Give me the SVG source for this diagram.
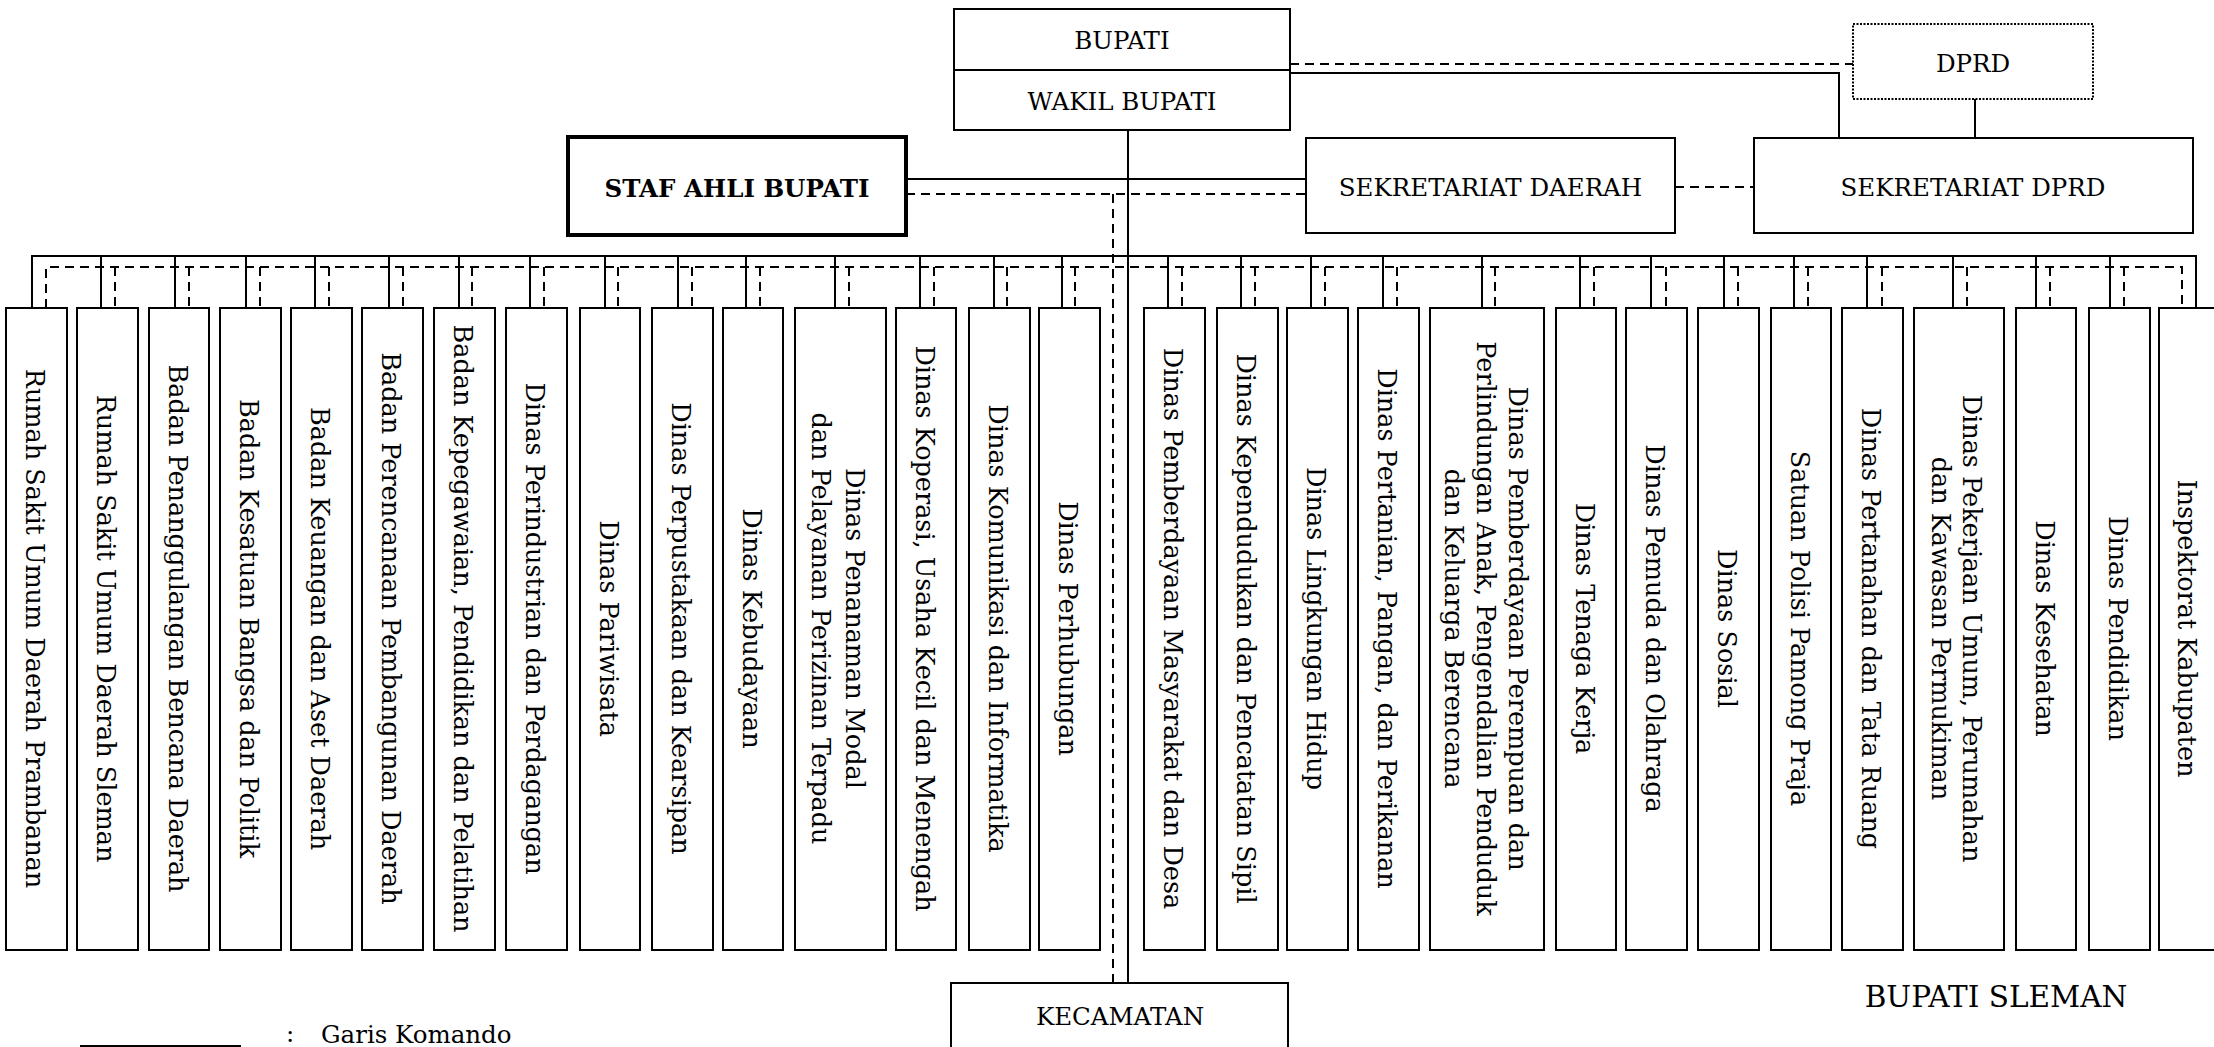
<svg xmlns="http://www.w3.org/2000/svg" width="2214" height="1047" viewBox="0 0 2214 1047">
<style>
.box{fill:#fff;stroke:#000;stroke-width:2}
.v{font-family:"DejaVu Serif",serif;font-size:25.5px;text-anchor:middle;fill:#000}
.h{font-family:"DejaVu Serif",serif;font-size:24.5px;text-anchor:middle;fill:#000}
.ln{stroke:#000;stroke-width:2;fill:none}
.ds{stroke:#000;stroke-width:2;stroke-dasharray:9 6;fill:none}
</style>
<rect width="2214" height="1047" fill="#fff"/>
<g id="connectors">
<path class="ln" d="M1128 130V983M906 179H1306M1290 73H1839V138M1975 99V138M32 308V256H2196V308"/>
<path class="ds" d="M906 194H1306M1113 194V983M1290 64H1853M1675 187H1754M46 308V267H2182V308"/>
<path class="ln" d="M101 256V308M175 256V308M246 256V308M315 256V308M389 256V308M459 256V308M530 256V308M605 256V308M678 256V308M746 256V308M835 256V308M920 256V308M994 256V308M1062 256V308M1168 256V308M1241 256V308M1311 256V308M1383 256V308M1482 256V308M1580 256V308M1651 256V308M1724 256V308M1794 256V308M1867 256V308M1953 256V308M2036 256V308M2110 256V308"/>
<path class="ds" d="M115 267V308M189 267V308M260 267V308M329 267V308M403 267V308M472 267V308M544 267V308M618 267V308M692 267V308M760 267V308M849 267V308M934 267V308M1007 267V308M1075 267V308M1182 267V308M1255 267V308M1325 267V308M1397 267V308M1495 267V308M1594 267V308M1666 267V308M1738 267V308M1808 267V308M1882 267V308M1967 267V308M2050 267V308M2124 267V308"/>
</g>
<g id="bupati"><rect class="box" x="954" y="9" width="336" height="121"/><line class="ln" x1="954" y1="70" x2="1290" y2="70"/><text class="h" x="1122" y="49">BUPATI</text><text class="h" x="1122" y="110">WAKIL BUPATI</text></g>
<g id="dprd"><rect x="1853" y="24" width="240" height="75" fill="#fff" stroke="#000" stroke-width="2" stroke-dasharray="2 1.5"/><text class="h" x="1973" y="72">DPRD</text></g>
<g id="staf"><rect x="568" y="137" width="338" height="98" fill="#fff" stroke="#000" stroke-width="4"/><text class="h" x="737" y="197" font-weight="bold">STAF AHLI BUPATI</text></g>
<g id="sekda"><rect class="box" x="1306" y="138" width="369" height="95"/><text class="h" x="1490.5" y="196">SEKRETARIAT DAERAH</text></g>
<g id="sekdprd"><rect class="box" x="1754" y="138" width="439" height="95"/><text class="h" x="1973" y="196">SEKRETARIAT DPRD</text></g>
<g id="kecamatan"><rect class="box" x="951" y="983" width="337" height="80"/><text class="h" x="1120" y="1025">KECAMATAN</text></g>
<g id="n1"><rect class="box" x="6" y="308" width="61" height="642"/><text class="v" transform="translate(26,628.5) rotate(90)">Rumah Sakit Umum Daerah Prambanan</text></g>
<g id="n2"><rect class="box" x="77" y="308" width="61" height="642"/><text class="v" transform="translate(97,628.5) rotate(90)">Rumah Sakit Umum Daerah Sleman</text></g>
<g id="n3"><rect class="box" x="149" y="308" width="60" height="642"/><text class="v" transform="translate(168.5,628.5) rotate(90)">Badan Penanggulangan Bencana Daerah</text></g>
<g id="n4"><rect class="box" x="220" y="308" width="61" height="642"/><text class="v" transform="translate(240,628.5) rotate(90)">Badan Kesatuan Bangsa dan Politik</text></g>
<g id="n5"><rect class="box" x="291" y="308" width="61" height="642"/><text class="v" transform="translate(311,628.5) rotate(90)">Badan Keuangan dan Aset Daerah</text></g>
<g id="n6"><rect class="box" x="362" y="308" width="61" height="642"/><text class="v" transform="translate(382,628.5) rotate(90)">Badan Perencanaan Pembangunan Daerah</text></g>
<g id="n7"><rect class="box" x="434" y="308" width="61" height="642"/><text class="v" transform="translate(454,628.5) rotate(90)">Badan Kepegawaian, Pendidikan dan Pelatihan</text></g>
<g id="n8"><rect class="box" x="506" y="308" width="61" height="642"/><text class="v" transform="translate(526,628.5) rotate(90)">Dinas Perindustrian dan Perdagangan</text></g>
<g id="n9"><rect class="box" x="580" y="308" width="60" height="642"/><text class="v" transform="translate(599.5,628.5) rotate(90)">Dinas Pariwisata</text></g>
<g id="n10"><rect class="box" x="652" y="308" width="61" height="642"/><text class="v" transform="translate(672,628.5) rotate(90)">Dinas Perpustakaan dan Kearsipan</text></g>
<g id="n11"><rect class="box" x="723" y="308" width="60" height="642"/><text class="v" transform="translate(742.5,628.5) rotate(90)">Dinas Kebudayaan</text></g>
<g id="n12"><rect class="box" x="795" y="308" width="91" height="642"/><text class="v" transform="translate(846,628.5) rotate(90)"><tspan x="0">Dinas Penanaman Modal</tspan><tspan x="0" dy="34">dan Pelayanan Perizinan Terpadu</tspan></text></g>
<g id="n13"><rect class="box" x="896" y="308" width="60" height="642"/><text class="v" transform="translate(915.5,628.5) rotate(90)">Dinas Koperasi, Usaha Kecil dan Menengah</text></g>
<g id="n14"><rect class="box" x="969" y="308" width="61" height="642"/><text class="v" transform="translate(989,628.5) rotate(90)">Dinas Komunikasi dan Informatika</text></g>
<g id="n15"><rect class="box" x="1039" y="308" width="61" height="642"/><text class="v" transform="translate(1059,628.5) rotate(90)">Dinas Perhubungan</text></g>
<g id="n16"><rect class="box" x="1144" y="308" width="61" height="642"/><text class="v" transform="translate(1164,628.5) rotate(90)">Dinas Pemberdayaan Masyarakat dan Desa</text></g>
<g id="n17"><rect class="box" x="1217" y="308" width="61" height="642"/><text class="v" transform="translate(1237,628.5) rotate(90)">Dinas Kependudukan dan Pencatatan Sipil</text></g>
<g id="n18"><rect class="box" x="1287" y="308" width="61" height="642"/><text class="v" transform="translate(1307,628.5) rotate(90)">Dinas Lingkungan Hidup</text></g>
<g id="n19"><rect class="box" x="1358" y="308" width="61" height="642"/><text class="v" transform="translate(1378,628.5) rotate(90)">Dinas Pertanian, Pangan, dan Perikanan</text></g>
<g id="n20"><rect class="box" x="1430" y="308" width="114" height="642"/><text class="v" transform="translate(1509,628.5) rotate(90)"><tspan x="0">Dinas Pemberdayaan Perempuan dan</tspan><tspan x="0" dy="32">Perlindungan Anak, Pengendalian Penduduk</tspan><tspan x="0" dy="32">dan Keluarga Berencana</tspan></text></g>
<g id="n21"><rect class="box" x="1556" y="308" width="60" height="642"/><text class="v" transform="translate(1575.5,628.5) rotate(90)">Dinas Tenaga Kerja</text></g>
<g id="n22"><rect class="box" x="1626" y="308" width="61" height="642"/><text class="v" transform="translate(1646,628.5) rotate(90)">Dinas Pemuda dan Olahraga</text></g>
<g id="n23"><rect class="box" x="1698" y="308" width="61" height="642"/><text class="v" transform="translate(1718,628.5) rotate(90)">Dinas Sosial</text></g>
<g id="n24"><rect class="box" x="1771" y="308" width="60" height="642"/><text class="v" transform="translate(1790.5,628.5) rotate(90)">Satuan Polisi Pamong Praja</text></g>
<g id="n25"><rect class="box" x="1842" y="308" width="61" height="642"/><text class="v" transform="translate(1862,628.5) rotate(90)">Dinas Pertanahan dan Tata Ruang</text></g>
<g id="n26"><rect class="box" x="1914" y="308" width="90" height="642"/><text class="v" transform="translate(1963,628.5) rotate(90)"><tspan x="0">Dinas Pekerjaan Umum, Perumahan</tspan><tspan x="0" dy="31">dan Kawasan Permukiman</tspan></text></g>
<g id="n27"><rect class="box" x="2016" y="308" width="60" height="642"/><text class="v" transform="translate(2035.5,628.5) rotate(90)">Dinas Kesehatan</text></g>
<g id="n28"><rect class="box" x="2089" y="308" width="61" height="642"/><text class="v" transform="translate(2109,628.5) rotate(90)">Dinas Pendidikan</text></g>
<g id="n29"><rect class="box" x="2159" y="308" width="63" height="642"/><text class="v" transform="translate(2178,628.5) rotate(90)">Inspektorat Kabupaten</text></g>
<g id="title"><text class="h" x="1996" y="1007" style="font-size:29.5px">BUPATI SLEMAN</text></g>
<g id="legend"><line class="ln" x1="80" y1="1046" x2="241" y2="1046"/><text class="h" x="286" y="1042" style="text-anchor:start">:</text><text class="h" x="321" y="1043" style="text-anchor:start">Garis Komando</text></g>
</svg>
